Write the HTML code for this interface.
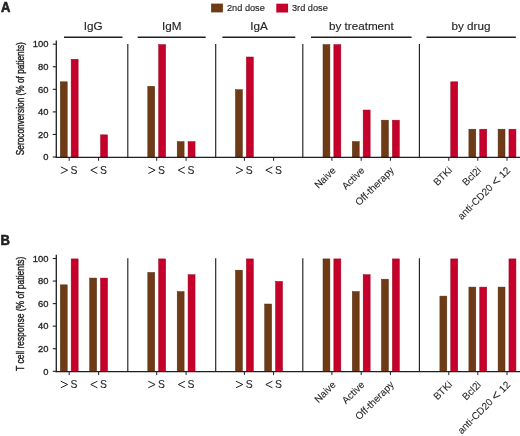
<!DOCTYPE html>
<html><head><meta charset="utf-8"><style>
html,body{margin:0;padding:0;background:#fff;}
body{width:520px;height:436px;overflow:hidden;}
svg{display:block;will-change:transform;}
text{font-family:"Liberation Sans",sans-serif;fill:#231f20;stroke:#231f20;stroke-width:0.25px;}
.pl{font-size:14px;font-weight:bold;stroke-width:0.6px;}
.lg{font-size:9.2px;stroke-width:0.15px;}
.ti{font-size:11.7px;stroke-width:0.15px;}
.tl{font-size:9.4px;stroke-width:0.32px;}
.xl{font-size:10.4px;stroke-width:0.1px;}
.rl{font-size:10px;stroke-width:0.08px;}
.lt{font-size:13.5px;stroke-width:0.1px;}
.yl{font-size:10.2px;stroke-width:0.4px;}
</style></head><body>
<svg width="520" height="436" viewBox="0 0 520 436">
<text transform="translate(0.9,12.3) scale(0.93,1)" class="pl">A</text>
<text transform="translate(0.6,245.2) scale(0.93,1)" class="pl">B</text>
<rect x="211.1" y="3.6" width="11.8" height="8.8" fill="#6f3b17"/>
<text x="227.0" y="10.8" class="lg">2nd dose</text>
<rect x="276.3" y="3.7" width="11.8" height="8.8" fill="#c5002a"/>
<text x="292.0" y="10.8" class="lg">3rd dose</text>
<text x="93.2" y="30.2" text-anchor="middle" class="ti">IgG</text>
<line x1="64" y1="37.2" x2="122.5" y2="37.2" stroke="#231f20" stroke-width="1.4"/>
<text x="171.8" y="30.2" text-anchor="middle" class="ti">IgM</text>
<line x1="137.7" y1="37.2" x2="205.7" y2="37.2" stroke="#231f20" stroke-width="1.4"/>
<text x="259.1" y="30.2" text-anchor="middle" class="ti">IgA</text>
<line x1="222.4" y1="37.2" x2="295.3" y2="37.2" stroke="#231f20" stroke-width="1.4"/>
<text x="361.4" y="30.2" text-anchor="middle" class="ti">by treatment</text>
<line x1="311" y1="37.2" x2="411.6" y2="37.2" stroke="#231f20" stroke-width="1.4"/>
<text x="471" y="30.2" text-anchor="middle" class="ti">by drug</text>
<line x1="426.5" y1="37.2" x2="515.8" y2="37.2" stroke="#231f20" stroke-width="1.4"/>
<rect x="60.30" y="81.82" width="6.9" height="75.18" fill="#6f3b17" stroke="#4f2c0c" stroke-width="0.5"/>
<rect x="71.15" y="59.26" width="7" height="97.74" fill="#c5002a" stroke="#a0021f" stroke-width="0.5"/>
<rect x="100.55" y="134.84" width="7" height="22.16" fill="#c5002a" stroke="#a0021f" stroke-width="0.5"/>
<rect x="147.80" y="86.34" width="6.9" height="70.66" fill="#6f3b17" stroke="#4f2c0c" stroke-width="0.5"/>
<rect x="158.65" y="44.60" width="7" height="112.40" fill="#c5002a" stroke="#a0021f" stroke-width="0.5"/>
<rect x="177.20" y="141.61" width="6.9" height="15.39" fill="#6f3b17" stroke="#4f2c0c" stroke-width="0.5"/>
<rect x="188.05" y="141.61" width="7" height="15.39" fill="#c5002a" stroke="#a0021f" stroke-width="0.5"/>
<rect x="235.50" y="89.72" width="6.9" height="67.28" fill="#6f3b17" stroke="#4f2c0c" stroke-width="0.5"/>
<rect x="246.35" y="57.01" width="7" height="99.99" fill="#c5002a" stroke="#a0021f" stroke-width="0.5"/>
<rect x="323.00" y="44.60" width="6.9" height="112.40" fill="#6f3b17" stroke="#4f2c0c" stroke-width="0.5"/>
<rect x="333.85" y="44.60" width="7" height="112.40" fill="#c5002a" stroke="#a0021f" stroke-width="0.5"/>
<rect x="352.30" y="141.61" width="6.9" height="15.39" fill="#6f3b17" stroke="#4f2c0c" stroke-width="0.5"/>
<rect x="363.15" y="110.02" width="7" height="46.98" fill="#c5002a" stroke="#a0021f" stroke-width="0.5"/>
<rect x="381.50" y="120.18" width="6.9" height="36.82" fill="#6f3b17" stroke="#4f2c0c" stroke-width="0.5"/>
<rect x="392.35" y="120.18" width="7" height="36.82" fill="#c5002a" stroke="#a0021f" stroke-width="0.5"/>
<rect x="450.75" y="81.82" width="7" height="75.18" fill="#c5002a" stroke="#a0021f" stroke-width="0.5"/>
<rect x="468.90" y="129.20" width="6.9" height="27.80" fill="#6f3b17" stroke="#4f2c0c" stroke-width="0.5"/>
<rect x="479.75" y="129.20" width="7" height="27.80" fill="#c5002a" stroke="#a0021f" stroke-width="0.5"/>
<rect x="498.10" y="129.20" width="6.9" height="27.80" fill="#6f3b17" stroke="#4f2c0c" stroke-width="0.5"/>
<rect x="508.95" y="129.20" width="7" height="27.80" fill="#c5002a" stroke="#a0021f" stroke-width="0.5"/>
<line x1="56.3" y1="40.5" x2="56.3" y2="157.9" stroke="#231f20" stroke-width="1.3"/>
<line x1="55.7" y1="157.3" x2="520" y2="157.3" stroke="#231f20" stroke-width="1.2"/>
<line x1="52.8" y1="157.00" x2="56.3" y2="157.00" stroke="#231f20" stroke-width="1.1"/>
<text x="48.4" y="160.20" text-anchor="end" class="tl">0</text>
<line x1="52.8" y1="134.44" x2="56.3" y2="134.44" stroke="#231f20" stroke-width="1.1"/>
<text x="48.4" y="137.64" text-anchor="end" class="tl">20</text>
<line x1="52.8" y1="111.88" x2="56.3" y2="111.88" stroke="#231f20" stroke-width="1.1"/>
<text x="48.4" y="115.08" text-anchor="end" class="tl">40</text>
<line x1="52.8" y1="89.32" x2="56.3" y2="89.32" stroke="#231f20" stroke-width="1.1"/>
<text x="48.4" y="92.52" text-anchor="end" class="tl">60</text>
<line x1="52.8" y1="66.76" x2="56.3" y2="66.76" stroke="#231f20" stroke-width="1.1"/>
<text x="48.4" y="69.96" text-anchor="end" class="tl">80</text>
<line x1="52.8" y1="44.20" x2="56.3" y2="44.20" stroke="#231f20" stroke-width="1.1"/>
<text x="48.4" y="47.40" text-anchor="end" class="tl">100</text>
<line x1="127.8" y1="44" x2="127.8" y2="157.3" stroke="#231f20" stroke-width="1.15"/>
<line x1="215.7" y1="44" x2="215.7" y2="157.3" stroke="#231f20" stroke-width="1.15"/>
<line x1="302.8" y1="44" x2="302.8" y2="157.3" stroke="#231f20" stroke-width="1.15"/>
<line x1="419.4" y1="44" x2="419.4" y2="157.3" stroke="#231f20" stroke-width="1.15"/>
<line x1="69.2" y1="157.3" x2="69.2" y2="160.8" stroke="#231f20" stroke-width="1"/>
<line x1="98.6" y1="157.3" x2="98.6" y2="160.8" stroke="#231f20" stroke-width="1"/>
<line x1="156.7" y1="157.3" x2="156.7" y2="160.8" stroke="#231f20" stroke-width="1"/>
<line x1="186.1" y1="157.3" x2="186.1" y2="160.8" stroke="#231f20" stroke-width="1"/>
<line x1="244.4" y1="157.3" x2="244.4" y2="160.8" stroke="#231f20" stroke-width="1"/>
<line x1="273.6" y1="157.3" x2="273.6" y2="160.8" stroke="#231f20" stroke-width="1"/>
<line x1="331.9" y1="157.3" x2="331.9" y2="160.8" stroke="#231f20" stroke-width="1"/>
<line x1="361.2" y1="157.3" x2="361.2" y2="160.8" stroke="#231f20" stroke-width="1"/>
<line x1="390.4" y1="157.3" x2="390.4" y2="160.8" stroke="#231f20" stroke-width="1"/>
<line x1="448.8" y1="157.3" x2="448.8" y2="160.8" stroke="#231f20" stroke-width="1"/>
<line x1="477.8" y1="157.3" x2="477.8" y2="160.8" stroke="#231f20" stroke-width="1"/>
<line x1="507.0" y1="157.3" x2="507.0" y2="160.8" stroke="#231f20" stroke-width="1"/>
<polyline points="60.80,166.9 67.60,170.2 60.80,173.5" fill="none" stroke="#231f20" stroke-width="1"/>
<text x="70.50" y="173.7" class="xl">S</text>
<polyline points="97.40,166.9 90.80,170.2 97.40,173.5" fill="none" stroke="#231f20" stroke-width="1"/>
<text x="99.90" y="173.7" class="xl">S</text>
<polyline points="148.30,166.9 155.10,170.2 148.30,173.5" fill="none" stroke="#231f20" stroke-width="1"/>
<text x="158.00" y="173.7" class="xl">S</text>
<polyline points="184.90,166.9 178.30,170.2 184.90,173.5" fill="none" stroke="#231f20" stroke-width="1"/>
<text x="187.40" y="173.7" class="xl">S</text>
<polyline points="236.00,166.9 242.80,170.2 236.00,173.5" fill="none" stroke="#231f20" stroke-width="1"/>
<text x="245.70" y="173.7" class="xl">S</text>
<polyline points="272.40,166.9 265.80,170.2 272.40,173.5" fill="none" stroke="#231f20" stroke-width="1"/>
<text x="274.90" y="173.7" class="xl">S</text>
<text transform="translate(336.50,171.00) rotate(-45)" text-anchor="end" class="rl">Naive</text>
<text transform="translate(365.20,171.00) rotate(-45)" text-anchor="end" class="rl">Active</text>
<text transform="translate(394.60,171.00) rotate(-45)" text-anchor="end" class="rl">Off-therapy</text>
<text transform="translate(452.70,171.00) rotate(-45)" text-anchor="end" class="rl">BTKi</text>
<text transform="translate(481.70,171.00) rotate(-45)" text-anchor="end" class="rl">Bcl2i</text>
<text transform="translate(510.90,171.00) rotate(-45)" text-anchor="end" class="rl">anti-CD20 <tspan class="lt" dy="1">&lt;</tspan><tspan dy="-1"> 12</tspan></text>
<text transform="translate(24.0,98.65) rotate(-90)" text-anchor="middle" textLength="113" lengthAdjust="spacingAndGlyphs" class="yl">Seroconversion (% of patients)</text>
<rect x="60.30" y="284.84" width="6.9" height="86.46" fill="#6f3b17" stroke="#4f2c0c" stroke-width="0.5"/>
<rect x="71.15" y="258.90" width="7" height="112.40" fill="#c5002a" stroke="#a0021f" stroke-width="0.5"/>
<rect x="89.70" y="278.08" width="6.9" height="93.22" fill="#6f3b17" stroke="#4f2c0c" stroke-width="0.5"/>
<rect x="100.55" y="278.08" width="7" height="93.22" fill="#c5002a" stroke="#a0021f" stroke-width="0.5"/>
<rect x="147.80" y="272.44" width="6.9" height="98.86" fill="#6f3b17" stroke="#4f2c0c" stroke-width="0.5"/>
<rect x="158.65" y="258.90" width="7" height="112.40" fill="#c5002a" stroke="#a0021f" stroke-width="0.5"/>
<rect x="177.20" y="291.61" width="6.9" height="79.69" fill="#6f3b17" stroke="#4f2c0c" stroke-width="0.5"/>
<rect x="188.05" y="274.69" width="7" height="96.61" fill="#c5002a" stroke="#a0021f" stroke-width="0.5"/>
<rect x="235.50" y="270.18" width="6.9" height="101.12" fill="#6f3b17" stroke="#4f2c0c" stroke-width="0.5"/>
<rect x="246.35" y="258.90" width="7" height="112.40" fill="#c5002a" stroke="#a0021f" stroke-width="0.5"/>
<rect x="264.70" y="304.02" width="6.9" height="67.28" fill="#6f3b17" stroke="#4f2c0c" stroke-width="0.5"/>
<rect x="275.55" y="281.46" width="7" height="89.84" fill="#c5002a" stroke="#a0021f" stroke-width="0.5"/>
<rect x="323.00" y="258.90" width="6.9" height="112.40" fill="#6f3b17" stroke="#4f2c0c" stroke-width="0.5"/>
<rect x="333.85" y="258.90" width="7" height="112.40" fill="#c5002a" stroke="#a0021f" stroke-width="0.5"/>
<rect x="352.30" y="291.61" width="6.9" height="79.69" fill="#6f3b17" stroke="#4f2c0c" stroke-width="0.5"/>
<rect x="363.15" y="274.69" width="7" height="96.61" fill="#c5002a" stroke="#a0021f" stroke-width="0.5"/>
<rect x="381.50" y="279.20" width="6.9" height="92.10" fill="#6f3b17" stroke="#4f2c0c" stroke-width="0.5"/>
<rect x="392.35" y="258.90" width="7" height="112.40" fill="#c5002a" stroke="#a0021f" stroke-width="0.5"/>
<rect x="439.90" y="296.12" width="6.9" height="75.18" fill="#6f3b17" stroke="#4f2c0c" stroke-width="0.5"/>
<rect x="450.75" y="258.90" width="7" height="112.40" fill="#c5002a" stroke="#a0021f" stroke-width="0.5"/>
<rect x="468.90" y="287.10" width="6.9" height="84.20" fill="#6f3b17" stroke="#4f2c0c" stroke-width="0.5"/>
<rect x="479.75" y="287.10" width="7" height="84.20" fill="#c5002a" stroke="#a0021f" stroke-width="0.5"/>
<rect x="498.10" y="287.10" width="6.9" height="84.20" fill="#6f3b17" stroke="#4f2c0c" stroke-width="0.5"/>
<rect x="508.95" y="258.90" width="7" height="112.40" fill="#c5002a" stroke="#a0021f" stroke-width="0.5"/>
<line x1="56.3" y1="254.8" x2="56.3" y2="372.20000000000005" stroke="#231f20" stroke-width="1.3"/>
<line x1="55.7" y1="371.6" x2="520" y2="371.6" stroke="#231f20" stroke-width="1.2"/>
<line x1="52.8" y1="371.30" x2="56.3" y2="371.30" stroke="#231f20" stroke-width="1.1"/>
<text x="48.4" y="374.50" text-anchor="end" class="tl">0</text>
<line x1="52.8" y1="348.74" x2="56.3" y2="348.74" stroke="#231f20" stroke-width="1.1"/>
<text x="48.4" y="351.94" text-anchor="end" class="tl">20</text>
<line x1="52.8" y1="326.18" x2="56.3" y2="326.18" stroke="#231f20" stroke-width="1.1"/>
<text x="48.4" y="329.38" text-anchor="end" class="tl">40</text>
<line x1="52.8" y1="303.62" x2="56.3" y2="303.62" stroke="#231f20" stroke-width="1.1"/>
<text x="48.4" y="306.82" text-anchor="end" class="tl">60</text>
<line x1="52.8" y1="281.06" x2="56.3" y2="281.06" stroke="#231f20" stroke-width="1.1"/>
<text x="48.4" y="284.26" text-anchor="end" class="tl">80</text>
<line x1="52.8" y1="258.50" x2="56.3" y2="258.50" stroke="#231f20" stroke-width="1.1"/>
<text x="48.4" y="261.70" text-anchor="end" class="tl">100</text>
<line x1="127.8" y1="258.3" x2="127.8" y2="371.6" stroke="#231f20" stroke-width="1.15"/>
<line x1="215.7" y1="258.3" x2="215.7" y2="371.6" stroke="#231f20" stroke-width="1.15"/>
<line x1="302.8" y1="258.3" x2="302.8" y2="371.6" stroke="#231f20" stroke-width="1.15"/>
<line x1="419.4" y1="258.3" x2="419.4" y2="371.6" stroke="#231f20" stroke-width="1.15"/>
<line x1="69.2" y1="371.6" x2="69.2" y2="375.1" stroke="#231f20" stroke-width="1"/>
<line x1="98.6" y1="371.6" x2="98.6" y2="375.1" stroke="#231f20" stroke-width="1"/>
<line x1="156.7" y1="371.6" x2="156.7" y2="375.1" stroke="#231f20" stroke-width="1"/>
<line x1="186.1" y1="371.6" x2="186.1" y2="375.1" stroke="#231f20" stroke-width="1"/>
<line x1="244.4" y1="371.6" x2="244.4" y2="375.1" stroke="#231f20" stroke-width="1"/>
<line x1="273.6" y1="371.6" x2="273.6" y2="375.1" stroke="#231f20" stroke-width="1"/>
<line x1="331.9" y1="371.6" x2="331.9" y2="375.1" stroke="#231f20" stroke-width="1"/>
<line x1="361.2" y1="371.6" x2="361.2" y2="375.1" stroke="#231f20" stroke-width="1"/>
<line x1="390.4" y1="371.6" x2="390.4" y2="375.1" stroke="#231f20" stroke-width="1"/>
<line x1="448.8" y1="371.6" x2="448.8" y2="375.1" stroke="#231f20" stroke-width="1"/>
<line x1="477.8" y1="371.6" x2="477.8" y2="375.1" stroke="#231f20" stroke-width="1"/>
<line x1="507.0" y1="371.6" x2="507.0" y2="375.1" stroke="#231f20" stroke-width="1"/>
<polyline points="60.80,381.20000000000005 67.60,384.5 60.80,387.8" fill="none" stroke="#231f20" stroke-width="1"/>
<text x="70.50" y="388.0" class="xl">S</text>
<polyline points="97.40,381.20000000000005 90.80,384.5 97.40,387.8" fill="none" stroke="#231f20" stroke-width="1"/>
<text x="99.90" y="388.0" class="xl">S</text>
<polyline points="148.30,381.20000000000005 155.10,384.5 148.30,387.8" fill="none" stroke="#231f20" stroke-width="1"/>
<text x="158.00" y="388.0" class="xl">S</text>
<polyline points="184.90,381.20000000000005 178.30,384.5 184.90,387.8" fill="none" stroke="#231f20" stroke-width="1"/>
<text x="187.40" y="388.0" class="xl">S</text>
<polyline points="236.00,381.20000000000005 242.80,384.5 236.00,387.8" fill="none" stroke="#231f20" stroke-width="1"/>
<text x="245.70" y="388.0" class="xl">S</text>
<polyline points="272.40,381.20000000000005 265.80,384.5 272.40,387.8" fill="none" stroke="#231f20" stroke-width="1"/>
<text x="274.90" y="388.0" class="xl">S</text>
<text transform="translate(336.50,385.30) rotate(-45)" text-anchor="end" class="rl">Naive</text>
<text transform="translate(365.20,385.30) rotate(-45)" text-anchor="end" class="rl">Active</text>
<text transform="translate(394.60,385.30) rotate(-45)" text-anchor="end" class="rl">Off-therapy</text>
<text transform="translate(452.70,385.30) rotate(-45)" text-anchor="end" class="rl">BTKi</text>
<text transform="translate(481.70,385.30) rotate(-45)" text-anchor="end" class="rl">Bcl2i</text>
<text transform="translate(510.90,385.30) rotate(-45)" text-anchor="end" class="rl">anti-CD20 <tspan class="lt" dy="1">&lt;</tspan><tspan dy="-1"> 12</tspan></text>
<text transform="translate(24.0,313.8) rotate(-90)" text-anchor="middle" textLength="114.3" lengthAdjust="spacingAndGlyphs" class="yl">T cell response (% of patients)</text>
</svg>
</body></html>
